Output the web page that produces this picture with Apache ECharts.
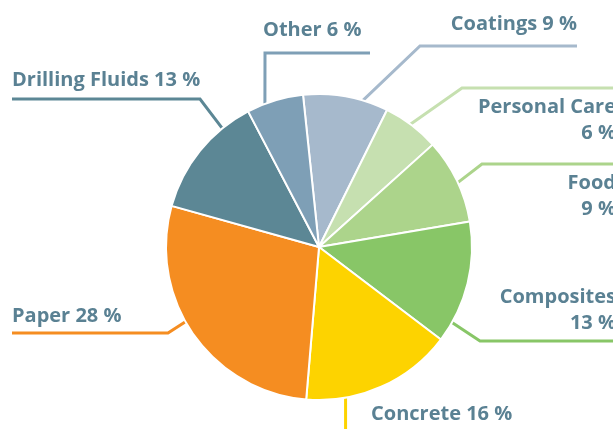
<!DOCTYPE html>
<html>
<head>
<meta charset="utf-8">
<script src="https://cdn.jsdelivr.net/npm/echarts@6/dist/echarts.min.js"></script>
<style>html,body{margin:0;padding:0;background:#fff}#c{width:613px;height:429px}</style>
</head>
<body>
<div id="c"></div>
<script>
const categories = ['Coatings', 'Personal Care', 'Food', 'Composites', 'Concrete', 'Paper', 'Drilling Fluids', 'Other'];
const shares = [9, 6, 9, 13, 16, 28, 13, 6];
const colors = ['#a6b9cc', '#c6e0b0', '#acd48b', '#88c667', '#fdd300', '#f58d21', '#5c8795', '#7e9fb6'];

// layout of labels (positions only)
const CX = 319, CY = 247, R = 153;
const labelCfg = {
  'Other':           { x: 263, y: 30,  align: 'left',  wrap: false, startDeg: -20.7, elbow: [265, 53],  end: [370, 53] },
  'Coatings':        { x: 577, y: 24,  align: 'right', wrap: false, startDeg: 16.7,  elbow: [420, 46],  end: [577, 46] },
  'Personal Care':   { x: 616, y: 120, align: 'right', wrap: true,  startDeg: 36.7,  elbow: [462, 88],  end: [640, 88] },
  'Food':            { x: 616, y: 196, align: 'right', wrap: true,  startDeg: 65.1,  elbow: [482, 164], end: [640, 164] },
  'Composites':      { x: 616, y: 310, align: 'right', wrap: true,  startDeg: 119.6, elbow: [480, 341], end: [640, 341] },
  'Concrete':        { x: 371, y: 414, align: 'left',  wrap: false, startDeg: 170,   elbow: null,       end: [346, 440] },
  'Paper':           { x: 12,  y: 316, align: 'left',  wrap: false, startDeg: 240.8, elbow: [168, 333], end: [12, 333] },
  'Drilling Fluids': { x: 12,  y: 80,  align: 'left',  wrap: false, startDeg: -39.2, elbow: [200, 99],  end: [12, 99] }
};

const chart = echarts.init(document.getElementById('c'), null, { renderer: 'canvas' });
const data = categories.map((n, i) => ({ name: n, value: shares[i], itemStyle: { color: colors[i] }, labelLine: { lineStyle: { color: colors[i] } } }));

chart.setOption({
  animation: false,
  series: [{
    type: 'pie',
    center: [CX, CY],
    radius: R,
    startAngle: 96,
    clockwise: true,
    avoidLabelOverlap: false,
    data: data,
    itemStyle: { borderColor: '#ffffff', borderWidth: 2 },
    label: {
      show: true,
      position: 'outside',
      color: '#5a8193',
      fontFamily: 'Open Sans',
      fontWeight: 'bold',
      fontSize: 20,
      lineHeight: 26,
      formatter: function (p) {
        const c = labelCfg[p.name];
        return p.name + (c.wrap ? '\n' : ' ') + p.value + ' %';
      }
    },
    labelLine: { show: true, length: 10, length2: 10, lineStyle: { width: 3 } },
    labelLayout: function (params) {
      const name = categories[params.dataIndex];
      const c = labelCfg[name];
      const a = c.startDeg * Math.PI / 180;
      const start = [CX + R * Math.sin(a), CY - R * Math.cos(a)];
      const pts = c.elbow ? [start, c.elbow, c.end] : [start, [start[0], start[1] + 5], [start[0], c.end[1]]];
      return {
        x: c.x,
        y: c.y,
        align: c.align,
        verticalAlign: 'middle',
        labelLinePoints: pts
      };
    }
  }]
});
</script>
</body>
</html>
